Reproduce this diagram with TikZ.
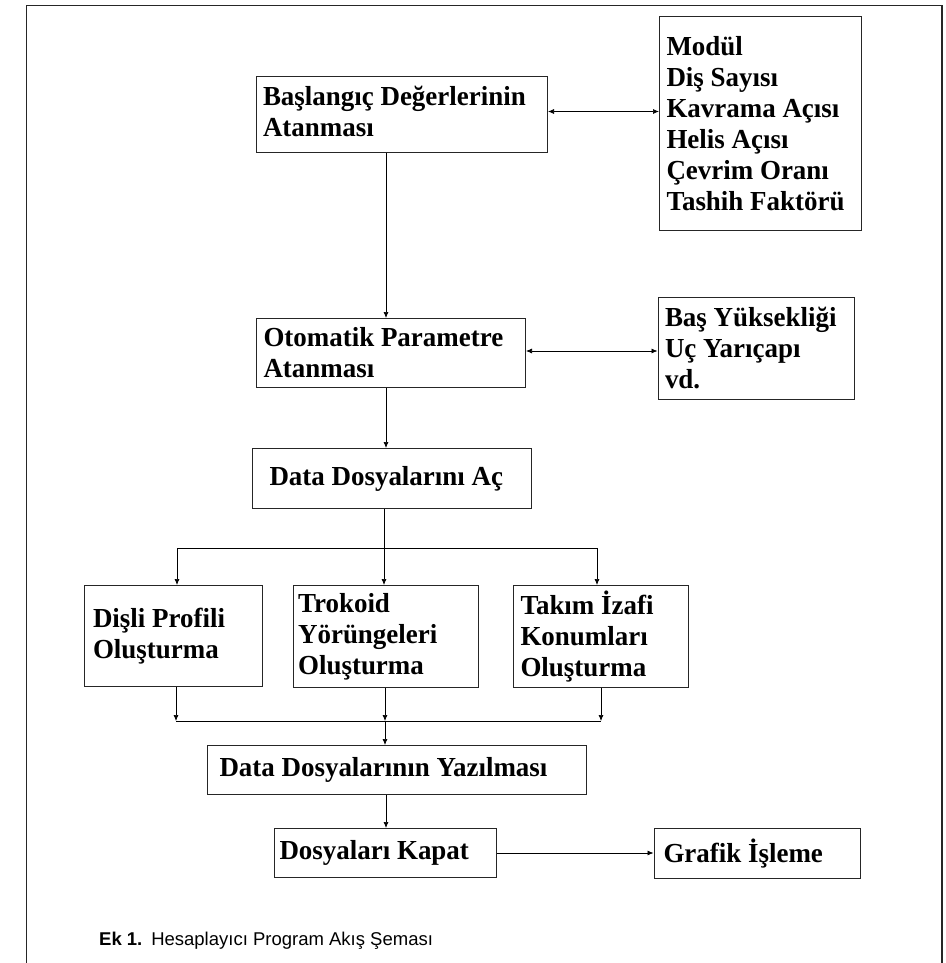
\documentclass[tikz,border=0pt]{standalone}
\usepackage{fontspec}
\setmainfont{Liberation Serif}
\newfontfamily\kutufam{Liberation Serif}[FakeStretch=0.98]
\newfontfamily\capfont{Liberation Sans}
\usetikzlibrary{positioning,arrows.meta}
\newcommand\kfont{\kutufam\fontsize{27.5}{31}\selectfont\bfseries}

\begin{document}
\begin{tikzpicture}[x=1pt,y={(0pt,-1pt)},
  k/.style={draw=black!85,line width=1pt,anchor=north west,align=flush left,inner ysep=0pt,font=\kfont},
  ok/.style={-{Latex[length=6pt,width=5pt]},line width=0.7pt},
  cok/.style={{Latex[length=6pt,width=5pt]}-{Latex[length=6pt,width=5pt]},line width=0.7pt}]
\useasboundingbox (0,0) rectangle (945,963);
\draw[line width=1.4pt,black!85] (26.5,963) -- (26.5,5.7) -- (942,5.7) -- (942,963);
\node[k,inner xsep=6.5pt,text width=278pt,minimum height=76pt] (bas) at (256,76) {Başlangıç Değerlerinin\\Atanması\vspace{6pt}};
\node[k,inner xsep=7pt,text width=188pt,minimum height=214pt] (par) at (659,16) {Modül\\Diş Sayısı\\Kavrama Açısı\\Helis Açısı\\Çevrim Oranı\\Tashih Faktörü};
\node[k,inner xsep=7pt,text width=255pt,minimum height=69pt] (oto) at (256,318) {Otomatik Parametre\\Atanması};
\node[k,inner xsep=7pt,text width=182.5pt,minimum height=102pt] (yuk) at (657.5,297) {Baş Yüksekliği\\Uç Yarıçapı\\vd.};
\node[k,inner xsep=17pt,text width=245pt,minimum height=60pt] (ac) at (252,448) {Data Dosyalarını Aç};
\node[k,inner xsep=8.5pt,text width=161pt,minimum height=101pt] (dp) at (84,585) {Dişli Profili\\Oluşturma};
\node[k,inner xsep=5pt,text width=175pt,minimum height=102pt] (tr) at (292.6,585) {Trokoid\\Yörüngeleri\\Oluşturma};
\node[k,inner xsep=7pt,text width=161pt,minimum height=102pt] (tk) at (513,585) {Takım İzafi\\Konumları\\Oluşturma};
\node[k,inner xsep=12pt,text width=354.5pt,minimum height=49pt] (yaz) at (207,745) {Data Dosyalarının Yazılması};
\node[k,inner xsep=5pt,text width=212pt,minimum height=49pt] (kap) at (274,828) {Dosyaları Kapat};
\node[k,inner xsep=9.5pt,text width=187.5pt,minimum height=50pt] (graf) at (653.5,828) {Grafik İşleme};
\node[anchor=base west,inner sep=0pt,font=\capfont\fontsize{18.5}{22}\selectfont] (cap) at (99,945) {\textbf{Ek 1.}\hspace{2pt} Hesaplayıcı Program Akış Şeması};
\coordinate (eks) at (386,0);
\coordinate (dal) at (384,548);
\coordinate (dsol) at (177,548);
\coordinate (dsag) at (597,548);
\coordinate (top) at (385,721);
\coordinate (tsol) at (176,721);
\coordinate (tsag) at (601,721);
\draw[cok] ([yshift=3pt]bas.east) -- ([yshift=3pt]bas.east -| par.west);
\draw[cok] ([yshift=2pt]oto.east) -- ([yshift=2pt]oto.east -| yuk.west);
\draw[ok] (bas.south -| eks) -- (oto.north -| eks);
\draw[ok] (oto.south -| eks) -- (ac.north -| eks);
\draw (ac.south -| dal) -- (dal);
\draw (dsol) -- (dsag);
\draw[ok] (dsol) -- (dp.north -| dsol);
\draw[ok] (dal) -- (tr.north -| dal);
\draw[ok] (dsag) -- (tk.north -| dsag);
\draw (tsol) -- (tsag);
\draw[ok] (dp.south -| tsol) -- (tsol);
\draw[ok] (tr.south -| top) -- (top);
\draw[ok] (tk.south -| tsag) -- (tsag);
\draw[ok] (top) -- (yaz.north -| top);
\draw[ok] (yaz.south -| eks) -- (kap.north -| eks);
\draw[ok] (kap.east) -- (kap.east -| graf.west);
\end{tikzpicture}
\end{document}
